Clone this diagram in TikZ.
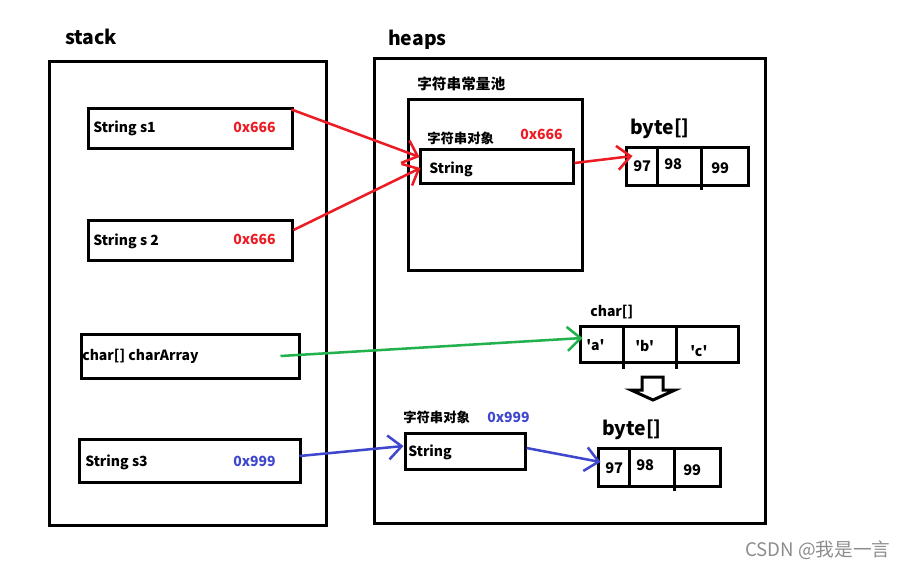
\documentclass[tikz,border=0pt]{standalone}
\usepackage{fontspec}
\setmainfont{Noto Sans CJK SC}
\newfontfamily\cellfont{Noto Sans CJK SC}[Ligatures=TeXOff]
\usetikzlibrary{arrows.meta,calc}
\definecolor{pred}{RGB}{237,28,36}
\definecolor{pgreen}{RGB}{34,177,76}
\definecolor{pblue}{RGB}{63,72,204}

\begin{document}
\begin{tikzpicture}[x=0.75pt,y=-0.75pt,
    box/.style={draw, line width=2.25pt, inner sep=0pt},
    txt/.style={anchor=west, inner sep=0pt, font=\bfseries\fontsize{10.5}{12}\selectfont},
    big/.style={anchor=west, inner sep=0pt, font=\bfseries\fontsize{14.5}{16}\selectfont},
    num/.style={anchor=west, inner sep=0pt, font=\bfseries\fontsize{11}{13}\selectfont},
    ptr/.style={line width=1.9pt, -{Straight Barb[length=10pt,width=18pt,line width=1.9pt]}}]
    \useasboundingbox (0,0) rectangle (912,569);

    \node[big] (stacklbl) at (65,37) {stack};
    \node[big] (heapslbl) at (388,40) {heaps};
    \node[box, minimum width=277*0.75pt, minimum height=464*0.75pt] (stack) at (187.5,293) {};
    \node[box, minimum width=391*0.75pt, minimum height=465*0.75pt] (heaps) at (569.5,290.5) {};

    \node[box, minimum width=204*0.75pt, minimum height=40*0.75pt] (s1) at (190,128) {};
    \node[box, minimum width=204*0.75pt, minimum height=40*0.75pt] (s2) at (190,240) {};
    \node[box, minimum width=218*0.75pt, minimum height=44*0.75pt] (ca) at (190,356) {};
    \node[box, minimum width=221*0.75pt, minimum height=43*0.75pt] (s3) at (189.5,460.5) {};
    \node[txt] (s1t) at (93,128) {String s1};
    \node[txt, text=pred] (s1a) at (233,127) {0x666};
    \node[txt] (s2t) at (93,241) {String s 2};
    \node[txt, text=pred] (s2a) at (233,239) {0x666};
    \node[txt] (cat) at (82,356) {char[] charArray};
    \node[txt] (s3t) at (85,462) {String s3};
    \node[txt, text=pblue] (s3a) at (233,461) {0x999};

    \node[txt, font=\bfseries\fontsize{11}{13}\selectfont] (poollbl) at (417,84) {字符串常量池};
    \node[box, minimum width=174*0.75pt, minimum height=171*0.75pt] (pool) at (495,184.5) {};
    \node[txt, font=\bfseries\fontsize{10}{12}\selectfont] (obj1lbl) at (427,138) {字符串对象};
    \node[txt, text=pred] (obj1a) at (520,134) {0x666};
    \node[box, minimum width=153*0.75pt, minimum height=34*0.75pt] (str1) at (496.5,166) {};
    \node[txt] (str1t) at (429,169) {String};

    \node[big] (byte1lbl) at (630,129) {byte[]};
    \node[box, minimum width=122*0.75pt, minimum height=38*0.75pt] (byte1) at (687,166) {};
    \draw[line width=2.25pt] ($(byte1.north west)+(33,0)$) -- ($(byte1.south west)+(33,0)$);
    \draw[line width=2.25pt] ($(byte1.north west)+(77,0)$) -- ($(byte1.south west)+(77,3)$);
    \node[num] (b1a) at (633,166) {97};
    \node[num] (b1b) at (664,164) {98};
    \node[num] (b1c) at (711,168) {99};

    \node[txt] (charlbl) at (590,312) {char[]};
    \node[box, minimum width=158*0.75pt, minimum height=36*0.75pt] (chars) at (659,344) {};
    \draw[line width=2.25pt] ($(chars.north west)+(45,0)$) -- ($(chars.south west)+(45,5)$);
    \draw[line width=2.25pt] ($(chars.north west)+(98,0)$) -- ($(chars.south west)+(98,5)$);
    \node[txt, font=\cellfont\bfseries\fontsize{10.5}{12}\selectfont] (ca1) at (586,345) {'a'};
    \node[txt, font=\cellfont\bfseries\fontsize{10.5}{12}\selectfont] (ca2) at (635,346) {'b'};
    \node[txt, font=\cellfont\bfseries\fontsize{10.5}{12}\selectfont] (ca3) at (690,351) {'c'};
    \draw[line width=2.25pt, line join=miter] (642,377) -- (663,377) -- (663,390) -- (675,390)
        -- (653,400) -- (631,390) -- (642,390) -- cycle;

    \node[txt, font=\bfseries\fontsize{10}{12}\selectfont] (obj2lbl) at (403,417) {字符串对象};
    \node[txt, text=pblue] (obj2a) at (487,417) {0x999};
    \node[box, minimum width=120*0.75pt, minimum height=36*0.75pt] (str2) at (465,451) {};
    \node[txt] (str2t) at (408,452) {String};

    \node[big] (byte2lbl) at (602,430) {byte[]};
    \node[box, minimum width=122*0.75pt, minimum height=38*0.75pt] (byte2) at (659,467) {};
    \draw[line width=2.25pt] ($(byte2.north west)+(33,0)$) -- ($(byte2.south west)+(33,0)$);
    \draw[line width=2.25pt] ($(byte2.north west)+(78,0)$) -- ($(byte2.south west)+(78,3)$);
    \node[num] (b2a) at (605,468) {97};
    \node[num] (b2b) at (636,465) {98};
    \node[num] (b2c) at (683,470) {99};

    \draw[ptr, pred] ($(s1.north east)+(-2,3)$) -- ($(str1.west)+(1,-9)$);
    \draw[ptr, pred] ($(s2.east)+(0,-10)$) -- ($(str1.west)+(2,2)$);
    \draw[ptr, pred] ($(str1.east)+(0,-3)$) -- ($(byte1.west)+(8,-10)$);
    \draw[ptr, pgreen] ($(ca.east)+(-20,0)$) -- ($(chars.west)+(4,-6)$);
    \draw[ptr, pblue] ($(s3.east)+(-2,-4.5)$) -- ($(str2.west)+(0,-5)$);
    \draw[ptr, pblue] ($(str2.east)+(0,-3)$) -- ($(byte2.west)+(4,-5)$);

    \node[anchor=west, inner sep=0pt, text=black!45, font=\fontsize{14}{16}\selectfont] (mark) at (745,550) {CSDN @我是一言};
\end{tikzpicture}
\end{document}
